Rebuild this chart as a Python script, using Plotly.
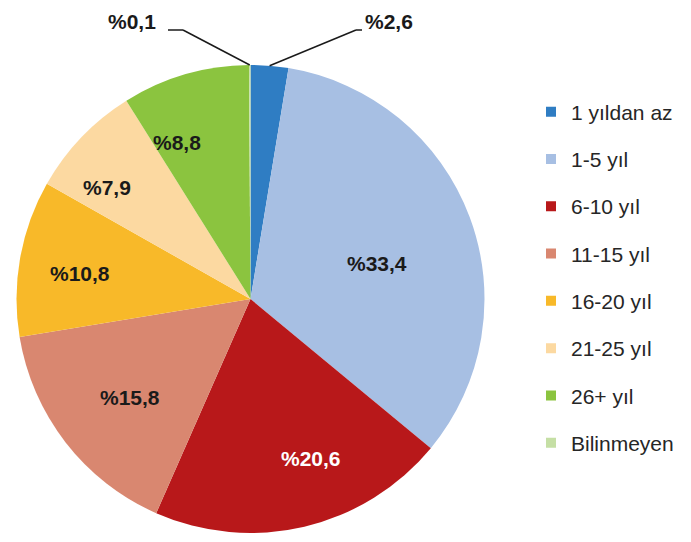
import math
import plotly.graph_objects as go

labels = ["1 yıldan az", "1-5 yıl", "6-10 yıl", "11-15 yıl", "16-20 yıl", "21-25 yıl", "26+ yıl", "Bilinmeyen"]
values = [2.6, 33.4, 20.6, 15.8, 10.8, 7.9, 8.8, 0.1]
colors = ["#2F7DC3", "#A7BFE3", "#B8181A", "#D98770", "#F8B929", "#FCD9A1", "#8BC43F", "#C5DFA5"]
text_labels = ["%" + f"{v:.1f}".replace(".", ",") for v in values]
outside_idx = [0, 7]

W, H = 691, 542
OFF = 8  # page body margin
FONT = "Liberation Sans, Arial, sans-serif"


def px(x):
    return (x - OFF) / W


def py(y):
    return 1 - (y - OFF) / H


# pie box in window pixels
L, R, T, B = 16, 485, 65, 533
cx, cy = (L + R) / 2, (T + B) / 2
rad = min(R - L, B - T) / 2

# inside label placement: (angle offset from slice middle in degrees, radius fraction)
label_place = {1: (4.6, 0.56), 2: (-7.5, 0.73), 3: (-1.3, 0.665), 4: (-1.4, 0.735),
               5: (-6.0, 0.775), 6: (-9.0, 0.737)}
text_colors = ["#1a1a1a"] * len(values)
text_colors[2] = "#ffffff"

fig = go.Figure()
fig.add_trace(go.Pie(
    labels=labels, values=values, sort=False, direction="clockwise", rotation=0,
    marker=dict(colors=colors, line=dict(width=0)),
    textinfo="none",
    hoverinfo="label+percent", showlegend=False,
    domain=dict(x=[px(L), px(R)], y=[py(B), py(T)]),
))

# legend entries
for lab, col in zip(labels, colors):
    fig.add_trace(go.Scatter(
        x=[None], y=[None], mode="markers",
        marker=dict(symbol="square", size=10, color=col),
        name=lab, legendgroup=lab, showlegend=True, hoverinfo="skip",
    ))

total = sum(values)
starts = []
acc = 0
for v in values:
    starts.append(acc)
    acc += v

shapes = []
annotations = []

for i, (doff, rf) in label_place.items():
    th = math.radians(360 * (starts[i] + values[i] / 2) / total + doff)
    x = cx + rad * rf * math.sin(th)
    y = cy - rad * rf * math.cos(th)
    annotations.append(dict(text=f"<b>{text_labels[i]}</b>", xref="paper", yref="paper",
                            x=px(x), y=py(y), xanchor="center", yanchor="middle",
                            showarrow=False,
                            font=dict(family=FONT, size=21, color=text_colors[i])))

# outside labels with leader lines
label_pos = {0: dict(elbow=(356, 30), end=(362, 30), tx=363, anchor="left"),
             7: dict(elbow=(183, 30), end=(168, 30), tx=158, anchor="right")}
for i in outside_idx:
    th = 2 * math.pi * (starts[i] + values[i] / 2) / total
    ex = cx + rad * math.sin(th)
    ey = cy - rad * math.cos(th)
    lp = label_pos[i]
    for (x0, y0), (x1, y1) in [((ex, ey), lp["elbow"]), (lp["elbow"], lp["end"])]:
        shapes.append(dict(type="line", xref="paper", yref="paper",
                           x0=px(x0), y0=py(y0), x1=px(x1), y1=py(y1),
                           line=dict(color="#1a1a1a", width=1.5)))
    annotations.append(dict(text=f"<b>{text_labels[i]}</b>", xref="paper", yref="paper",
                            x=px(lp["tx"]), y=py(21), xanchor=lp["anchor"], yanchor="middle",
                            showarrow=False, font=dict(family=FONT, size=21, color="#1a1a1a")))

fig.update_layout(
    width=W, height=H,
    margin=dict(l=0, r=0, t=0, b=0),
    paper_bgcolor="white", plot_bgcolor="rgba(0,0,0,0)",
    xaxis=dict(visible=False), yaxis=dict(visible=False),
    shapes=shapes, annotations=annotations,
    legend=dict(x=px(531), xanchor="left", y=py(91.5), yanchor="top",
                tracegroupgap=17, itemwidth=30,
                font=dict(family=FONT, size=21, color="#262626"),
                bgcolor="rgba(0,0,0,0)"),
)

fig.write_html("out.html")
